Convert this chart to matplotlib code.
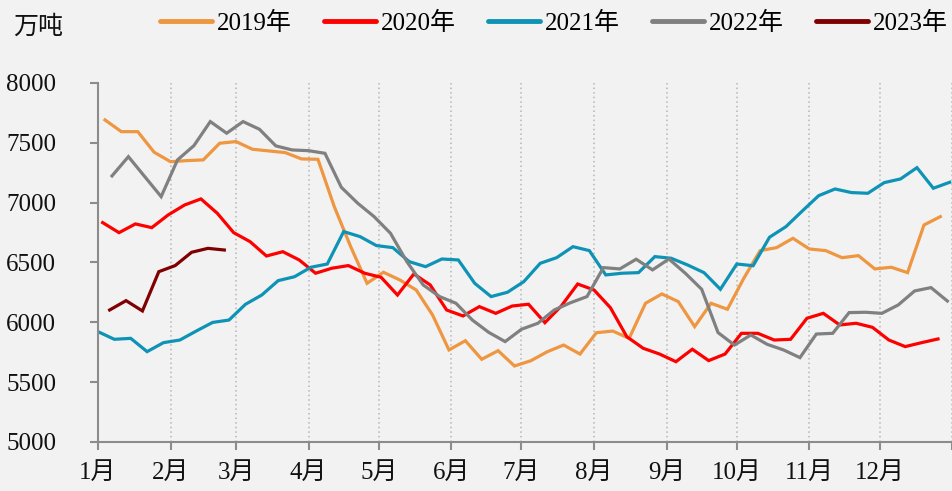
import matplotlib
matplotlib.use('Agg')
import matplotlib.pyplot as plt
import pandas as pd

plt.rcParams['font.family'] = ['Liberation Serif', 'Noto Sans CJK SC', 'DejaVu Sans']

# weekly values (万吨), first Friday of each year
start_2019 = '2019-01-04'
v2019 = [7691, 7593, 7593, 7421, 7342, 7351, 7357, 7496, 7510, 7446, 7432, 7418,
         7365, 7362, 6966, 6632, 6326, 6418, 6354, 6270, 6061, 5769, 5846, 5691,
         5763, 5635, 5679, 5754, 5810, 5735, 5913, 5927, 5866, 6159, 6237, 6173,
         5964, 6159, 6109, 6368, 6599, 6624, 6702, 6613, 6599, 6540, 6557, 6446,
         6460, 6415, 6813, 6883]

start_2020 = '2020-01-03'
v2020 = [6833, 6749, 6822, 6791, 6897, 6980, 7031, 6911, 6749, 6674, 6554, 6590,
         6521, 6410, 6452, 6474, 6410, 6376, 6228, 6404, 6312, 6103, 6053, 6131,
         6075, 6136, 6151, 5997, 6136, 6320, 6270, 6122, 5880, 5783, 5735, 5671,
         5775, 5680, 5735, 5908, 5908, 5852, 5858, 6034, 6075, 5978, 5992, 5958,
         5852, 5797, 5830, 5861]

start_2021 = '2021-01-01'
v2021 = [5922, 5858, 5866, 5755, 5830, 5852, 5927, 5999, 6019, 6150, 6228, 6348,
         6381, 6460, 6487, 6758, 6716, 6641, 6624, 6507, 6465, 6529, 6521, 6326,
         6215, 6251, 6340, 6493, 6540, 6632, 6599, 6396, 6410, 6415, 6549, 6535,
         6479, 6415, 6276, 6487, 6473, 6711, 6799, 6930, 7058, 7114, 7084, 7078,
         7167, 7198, 7292, 7120, 7170]

start_2022 = '2022-01-07'
v2022 = [7223, 7384, 7217, 7050, 7357, 7476, 7677, 7580, 7677, 7613, 7474, 7440,
         7434, 7412, 7128, 6995, 6883, 6744, 6507, 6312, 6215, 6159, 6019, 5916,
         5839, 5942, 5992, 6103, 6164, 6215, 6457, 6446, 6527, 6438, 6529, 6410,
         6276, 5914, 5810, 5894, 5816, 5769, 5705, 5902, 5908, 6081, 6084, 6075,
         6145, 6262, 6290, 6178]

start_2023 = '2023-01-06'
v2023 = [6103, 6181, 6095, 6423, 6474, 6585, 6618, 6604]

series = [
    ('2019年', start_2019, v2019, '#EE9640'),
    ('2020年', start_2020, v2020, '#FF0000'),
    ('2021年', start_2021, v2021, '#0E93B6'),
    ('2022年', start_2022, v2022, '#808080'),
    ('2023年', start_2023, v2023, '#7F0000'),
]

month_days = [0, 31, 59, 90, 120, 151, 181, 212, 243, 273, 304, 334, 365]
month_labels = ['%d月' % m for m in range(1, 13)] + ['']

bg = '#F2F2F2'
fig = plt.figure(figsize=(9.53, 4.91), dpi=100, facecolor=bg)
ax = fig.add_axes([0.1028, 0.0998, 0.8962, 0.7313], facecolor=bg)

for name, start, vals, col in series:
    d = pd.date_range(start, periods=len(vals), freq='7D')
    x = d.dayofyear - 1
    ax.plot(x, vals, color=col, lw=2.3, label=name, solid_joinstyle='miter')

for md in month_days[1:]:
    ax.axvline(md, color='#B5B5B5', lw=1.1, ls=(0, (1, 2)), zorder=0)

ax.set_xlim(0, 365)
ax.set_ylim(5000, 8000)
ax.set_yticks(range(5000, 8001, 500))
ax.set_xticks(month_days)
ax.set_xticklabels(month_labels)

for s in ['top', 'right']:
    ax.spines[s].set_visible(False)
for s in ['left', 'bottom']:
    ax.spines[s].set_color('#8C8C8C')
    ax.spines[s].set_linewidth(1.5)

ax.tick_params(axis='y', direction='out', length=6, width=1.5, color='#8C8C8C',
               labelsize=18, pad=24, labelcolor='#111111')
ax.tick_params(axis='x', direction='out', length=6, width=1.5, color='#8C8C8C',
               labelsize=18, pad=8, labelcolor='#111111')

fig.text(0.014, 0.945, '万吨', fontsize=18, color='#111111', va='center')

leg = fig.legend(loc='center', bbox_to_anchor=(0.581, 0.953), ncol=5, frameon=False,
                 fontsize=18, handlelength=2.1, handletextpad=0.18,
                 columnspacing=1.28)
for line in leg.get_lines():
    line.set_linewidth(3.5)
    line.set_solid_capstyle('round')

fig.savefig('out.png', dpi=100, facecolor=bg)
